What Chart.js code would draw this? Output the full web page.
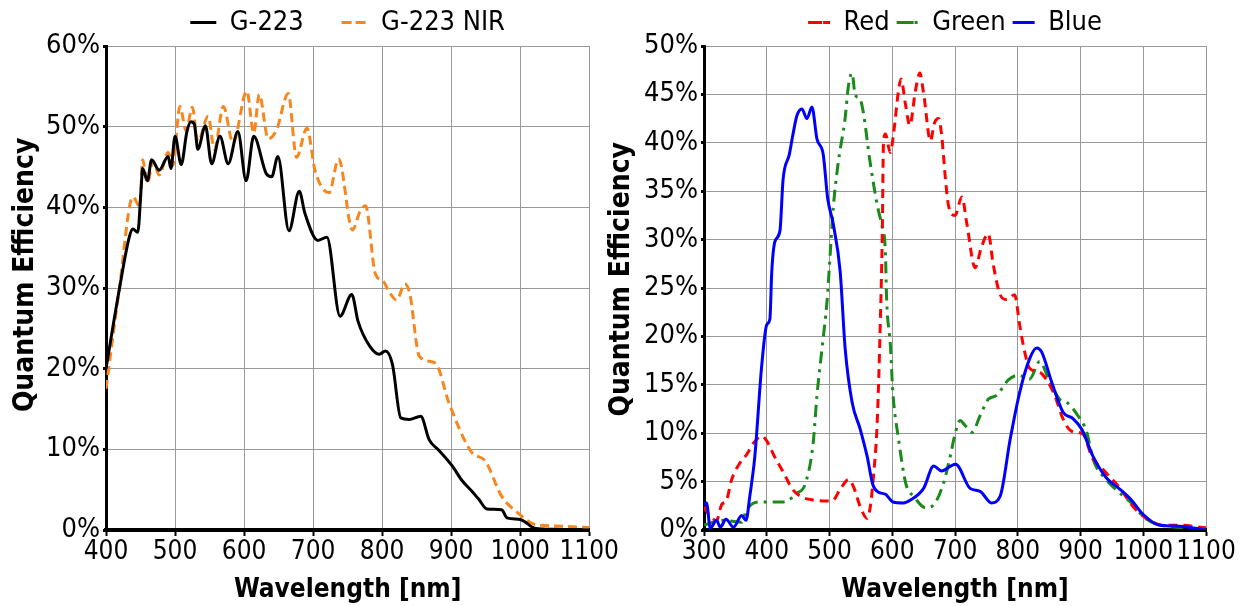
<!DOCTYPE html>
<html>
<head>
<meta charset="utf-8">
<script src="https://cdn.jsdelivr.net/npm/chart.js@4.4.1/dist/chart.umd.min.js"></script>
<style>
  html, body { margin: 0; padding: 0; background: #fff; }
  #left { position: absolute; left: 0; top: 0; width: 620px; height: 606px; }
  #right { position: absolute; left: 604px; top: 0; width: 654px; height: 606px; }
</style>
</head>
<body>
<div id="left"><canvas id="qeMono"></canvas></div>
<div id="right"><canvas id="qeColor"></canvas></div>
<script>
// G-223 mono sensor
const g223Wl = [400, 419, 434, 439, 446, 451, 453, 460, 466, 477, 490, 494, 500, 509, 517, 523, 528, 533, 544, 553, 565, 577, 591, 603, 614, 632, 640, 649, 665, 680, 688, 707, 720, 739, 756, 765, 782, 796, 805, 815, 827, 839, 856, 868, 882, 901, 916, 930, 940, 952, 973, 981, 1000, 1022, 1050, 1100];
const g223Qe = [20.0, 29.7, 36.4, 37.3, 36.9, 42.5, 44.8, 43.3, 45.9, 44.6, 46.3, 44.8, 48.8, 45.3, 49.3, 50.6, 50.3, 47.2, 50.1, 45.4, 48.8, 45.4, 49.4, 43.3, 48.8, 44.2, 43.8, 46.3, 37.1, 42.0, 39.3, 35.9, 36.3, 26.5, 29.2, 25.9, 22.8, 21.8, 22.2, 20.5, 13.9, 13.7, 14.1, 11.2, 9.9, 8.0, 6.1, 4.8, 3.8, 2.6, 2.5, 1.5, 1.3, 0.2, 0.1, 0.0];

// G-223 NIR
const g223NirWl = [400, 419, 439, 449, 453, 460, 468, 477, 490, 497, 507, 516, 525, 533, 548, 557, 570, 584, 604, 614, 622, 635, 647, 664, 676, 691, 703, 723, 737, 757, 768, 776, 790, 802, 809, 821, 833, 840, 854, 877, 897, 930, 949, 973, 997, 1021, 1050, 1100];
const g223NirQe = [17.5, 29.7, 41.3, 40.1, 45.9, 43.0, 45.7, 44.0, 46.8, 45.2, 52.5, 49.5, 52.4, 48.1, 51.3, 47.2, 52.5, 48.0, 54.4, 49.2, 54.0, 48.5, 49.6, 54.1, 46.2, 49.8, 44.5, 41.8, 46.0, 37.2, 39.5, 40.2, 31.8, 30.8, 29.7, 28.5, 30.5, 29.3, 21.5, 20.7, 15.7, 9.6, 8.6, 4.2, 2.1, 0.7, 0.5, 0.3];

// colour sensor
const redWl = [300, 310, 320, 328, 336, 344, 357, 368, 379, 392, 400, 413, 427, 440, 453, 474, 504, 517, 530, 538, 549, 560, 565, 570, 576, 581, 584, 586, 589, 597, 602, 610, 614, 621, 628, 637, 644, 650, 661, 667, 674, 679, 685, 690, 700, 711, 719, 732, 742, 753, 761, 772, 782, 795, 803, 811, 819, 835, 846, 859, 872, 886, 904, 918, 941, 963, 984, 1005, 1032, 1058, 1100];
const redQe = [2.4, 1.4, 1.0, 2.6, 3.1, 5.2, 6.9, 7.8, 9.0, 9.7, 9.2, 7.5, 5.9, 4.3, 3.5, 3.1, 3.0, 4.2, 5.2, 4.5, 2.4, 1.2, 2.4, 5.5, 11.1, 21.5, 30.2, 39.9, 40.9, 39.0, 40.9, 45.4, 46.6, 44.0, 41.8, 45.4, 47.2, 45.1, 40.2, 42.0, 42.5, 40.6, 36.1, 33.4, 32.5, 34.4, 31.6, 27.1, 29.2, 30.6, 27.4, 24.3, 23.8, 24.3, 21.2, 18.4, 16.7, 16.3, 15.5, 13.9, 11.5, 10.2, 9.9, 7.6, 5.9, 4.3, 2.4, 1.2, 0.5, 0.5, 0.2];

const greenWl = [300, 330, 360, 368, 389, 427, 448, 461, 474, 480, 488, 496, 501, 506, 514, 525, 530, 536, 541, 548, 554, 564, 576, 583, 589, 591, 597, 601, 610, 622, 634, 653, 666, 682, 693, 700, 708, 716, 727, 740, 753, 766, 785, 801, 819, 835, 851, 867, 878, 896, 910, 920, 941, 963, 981, 1000, 1026, 1100];
const greenQe = [0.5, 1.0, 0.8, 2.1, 2.9, 2.9, 3.8, 4.7, 9.0, 13.9, 18.7, 23.6, 28.4, 33.3, 38.0, 42.6, 45.8, 47.2, 44.9, 44.6, 43.1, 38.3, 33.6, 31.6, 28.8, 23.9, 19.1, 14.2, 9.4, 4.7, 3.5, 2.3, 2.6, 4.9, 7.8, 9.9, 11.3, 10.8, 10.1, 11.8, 13.5, 13.9, 15.5, 16.0, 15.6, 17.4, 15.3, 13.5, 13.2, 11.8, 10.1, 7.3, 5.2, 3.8, 2.8, 1.4, 0.5, 0.2];

const blueWl = [300, 304, 310, 320, 326, 335, 347, 360, 367, 373, 381, 392, 400, 405, 408, 413, 421, 426, 436, 441, 448, 456, 464, 472, 480, 490, 497, 506, 517, 525, 536, 549, 560, 569, 578, 589, 601, 618, 629, 650, 666, 679, 693, 701, 724, 740, 758, 772, 788, 803, 819, 830, 838, 854, 872, 888, 902, 920, 941, 963, 981, 1000, 1026, 1058, 1100];
const blueQe = [2.6, 2.8, 0.2, 1.0, 0.3, 1.1, 0.3, 1.5, 1.0, 3.5, 7.6, 17.0, 21.2, 21.8, 26.7, 29.8, 30.9, 36.2, 38.8, 40.6, 42.8, 43.5, 42.5, 43.7, 40.4, 38.8, 34.3, 31.6, 26.7, 18.7, 13.2, 10.4, 7.6, 4.7, 3.9, 3.7, 2.9, 2.8, 3.1, 4.3, 6.6, 6.1, 6.6, 6.8, 4.3, 4.0, 2.8, 3.5, 9.4, 14.2, 17.7, 18.8, 18.4, 15.3, 12.2, 11.5, 10.4, 7.6, 5.4, 4.2, 3.1, 1.6, 0.5, 0.4, 0.0];

const monoXTicks = [400, 500, 600, 700, 800, 900, 1000, 1100];
const colorXTicks = [300, 400, 500, 600, 700, 800, 900, 1000, 1100];

const FONT = "'Liberation Sans Narrow', 'DejaVu Sans Condensed', 'Roboto Condensed', sans-serif";

function pts(xs, ys) {
  return xs.map((x, i) => ({ x, y: ys[i] }));
}

function series(label, xs, ys, color, dash, order) {
  return {
    label,
    data: pts(xs, ys),
    borderColor: color,
    backgroundColor: color,
    borderDash: dash,
    borderWidth: 3,
    pointRadius: 0,
    cubicInterpolationMode: 'monotone',
    order,
  };
}

function options(cfg) {
  return {
    responsive: true,
    maintainAspectRatio: false,
    animation: false,
    layout: { padding: { top: 2, right: cfg.padRight, left: 0, bottom: 0 } },
    plugins: {
      tooltip: { enabled: false },
      legend: {
        position: 'top',
        fullSize: false,
        labels: {
          color: '#000',
          font: { family: FONT, size: 27 },
          boxWidth: cfg.boxWidth,
          boxHeight: 0,
          padding: 7,
          sort: (a, b) => a.datasetIndex - b.datasetIndex,
          // extra room after every entry but the last
          generateLabels: chart => {
            const items = Chart.defaults.plugins.legend.labels.generateLabels(chart);
            items.forEach((it, i) => {
              if (i < items.length - 1) it.text += cfg.legendSpacer;
            });
            return items;
          },
        },
      },
    },
    scales: {
      x: {
        type: 'linear',
        min: cfg.xTicks[0],
        max: cfg.xTicks[cfg.xTicks.length - 1],
        afterBuildTicks: s => { s.ticks = cfg.xTicks.map(v => ({ value: v })); },
        afterFit: s => { s.height = 76; },
        border: { color: '#000', width: 4 },
        grid: { color: '#999', lineWidth: 1, tickColor: '#000', tickLength: 6, tickWidth: 2 },
        ticks: {
          color: '#000',
          font: { family: FONT, size: 26 },
          padding: 1,
          maxRotation: 0,
          autoSkip: false,
          callback: v => String(v),
        },
        title: {
          display: true,
          text: 'Wavelength [nm]',
          color: '#000',
          font: { family: FONT, size: 26, weight: 'bold' },
          padding: { top: 0, bottom: 0 },
        },
      },
      y: {
        min: 0,
        max: cfg.yMax,
        afterFit: s => { s.width = cfg.yWidth; },
        border: { color: '#000', width: 3 },
        grid: { color: '#999', lineWidth: 1, tickColor: '#000', tickLength: 3, tickWidth: 3 },
        ticks: {
          stepSize: cfg.yStep,
          color: '#000',
          font: { family: FONT, size: 27 },
          padding: 3,
          callback: v => v + '%',
        },
        title: {
          display: true,
          text: cfg.yTitle,
          color: '#000',
          font: { family: FONT, size: 28, weight: 'bold' },
          padding: { top: cfg.yTitlePad, bottom: 0 },
        },
      },
    },
  };
}

new Chart(document.getElementById('qeMono'), {
  type: 'line',
  data: {
    datasets: [
      series('G-223', g223Wl, g223Qe, '#000000', [], 0),
      series('G-223 NIR', g223NirWl, g223NirQe, '#f7861f', [9, 5], 1),
    ],
  },
  options: options({
    xTicks: monoXTicks, yMax: 60, yStep: 10, yWidth: 106, padRight: 28,
    boxWidth: 26, legendSpacer: '    ', yTitle: '   Quantum Efficiency', yTitlePad: 9,
  }),
});

new Chart(document.getElementById('qeColor'), {
  type: 'line',
  data: {
    datasets: [
      series('Red', redWl, redQe, '#ff0000', [9, 6], 1),
      series('Green', greenWl, greenQe, '#1a8a1a', [12, 6, 3, 6], 2),
      series('Blue', blueWl, blueQe, '#0000ff', [], 0),
    ],
  },
  options: options({
    xTicks: colorXTicks, yMax: 50, yStep: 5, yWidth: 100, padRight: 52,
    boxWidth: 22, legendSpacer: '', yTitle: '  Quantum Efficiency', yTitlePad: 1,
  }),
});
</script>
</body>
</html>
